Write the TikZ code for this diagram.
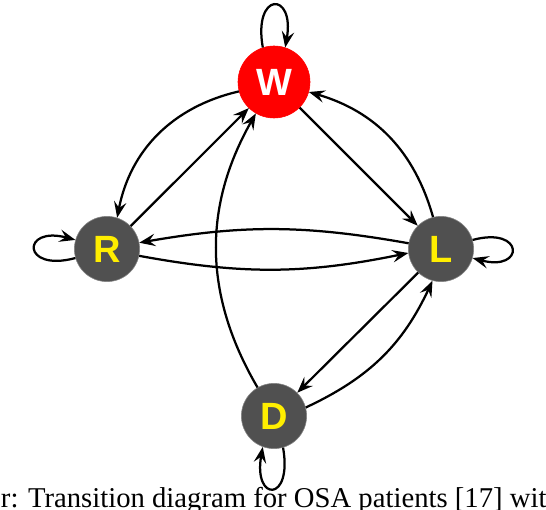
\documentclass[tikz,border=0pt]{standalone}
\usepackage{fontspec}
\setmainfont{Liberation Serif}
\newfontfamily\labelfont{Liberation Sans}
\usetikzlibrary{arrows.meta}
\definecolor{stategray}{RGB}{80,80,80}
\definecolor{stateyellow}{RGB}{255,238,0}

\begin{document}
\begin{tikzpicture}[
  x=0.025cm, y=-0.025cm,
  state/.style={circle, fill=stategray, draw=stategray!70, minimum size=16.3mm, inner sep=0pt,
    text=stateyellow, font=\labelfont\bfseries\fontsize{27}{30}\selectfont},
  wake/.style={state, fill=red, draw=red, minimum size=18mm, text=white},
  edge/.style={-{Stealth[length=4mm, width=3.1mm, inset=1.5mm]}, line width=1.6pt}
]
\useasboundingbox (0,0) rectangle (546,510);

\node[wake]  (W) at (274,82)  {W};
\node[state] (R) at (107,249) {R};
\node[state] (L) at (441,249) {L};
\node[state] (D) at (274,416) {D};

% self loops
\draw[edge] (W.108) .. controls +(100:1.43cm) and +(80:1.43cm) .. (W.72);
\draw[edge] (R.196) .. controls +(195:1.4cm) and +(165:1.4cm) .. (R.164);
\draw[edge] (L.16) .. controls +(15:1.35cm) and +(-15:1.35cm) .. (L.-16);
\draw[edge] (D.-74) .. controls +(-80:1.4cm) and +(-100:1.4cm) .. (D.-110);

% transitions
\draw[edge] (W.195) to[bend right=33] (R.72);
\draw[edge] (R.44) -- (W.226);
\draw[edge] (W.315) -- (L.135);
\draw[edge] (L.104) to[bend right=29] (W.344);
\draw[edge] (L.170) to[bend right=10] (R.11);
\draw[edge] (R.-12) to[bend right=11] (L.187);
\draw[edge] (L.226) -- (D.45);
\draw[edge] (D.15) to[bend right=20] (L.255);
\draw[edge] (D.120) to[bend left=30] (W.240);

\node[anchor=base west, font=\fontsize{20.4}{24}\selectfont] (caption) at (-4,507)
  {r: Transition diagram for OSA patients [17] with};
\end{tikzpicture}
\end{document}
